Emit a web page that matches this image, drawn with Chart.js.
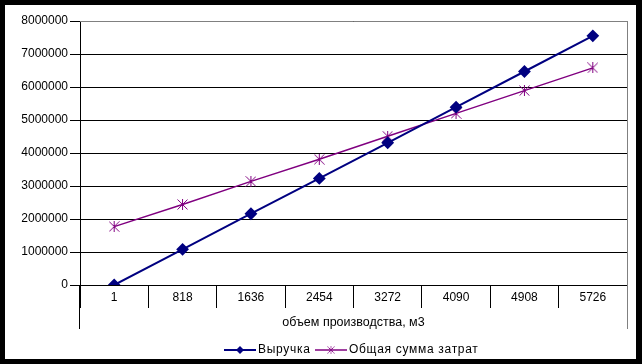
<!DOCTYPE html>
<html>
<head>
<meta charset="utf-8">
<script src="https://cdn.jsdelivr.net/npm/chart.js@4.4.1/dist/chart.umd.min.js"></script>
<style>
  html, body { margin: 0; padding: 0; background: #000; }
  #frame { position: absolute; left: 5px; top: 5px; width: 631px; height: 354px; background: #fff; }
</style>
</head>
<body>
<div id="frame"><canvas id="chart" width="631" height="354"></canvas></div>
<script>
// объем производства, м3
const categories = ["1", "818", "1636", "2454", "3272", "4090", "4908", "5726"]
// Выручка
const revenue = [0, 1080000, 2160000, 3230000, 4310000, 5390000, 6470000, 7550000]
// Общая сумма затрат
const totalCosts = [1770000, 2440000, 3140000, 3810000, 4510000, 5200000, 5890000, 6580000]
const yMax = 8000000
const yStep = 1000000

const NAVY = "#000080"
const PURPLE = "#800080"
const FAMILY = "'Liberation Sans', Arial, sans-serif"
const FONT = { family: FAMILY, size: 12 }

// маркер-звездочка как в Excel: крест + вертикаль
function asterisk(color, size) {
  const c = document.createElement("canvas")
  c.width = c.height = size
  const g = c.getContext("2d")
  g.strokeStyle = color
  g.lineWidth = 1
  const m = size / 2, r = size / 2 - 0.5
  g.beginPath()
  g.moveTo(m - r, m - r); g.lineTo(m + r, m + r)
  g.moveTo(m + r, m - r); g.lineTo(m - r, m + r)
  g.moveTo(m, 0); g.lineTo(m, size)
  g.stroke()
  return c
}
const star = asterisk(PURPLE, 11)

// рамка области построения и легенда снизу
const excelBits = {
  id: "excelBits",
  afterDraw(chart) {
    const { ctx, chartArea: a } = chart
    const boxBottom = a.bottom + 44
    ctx.save()
    ctx.lineWidth = 1
    ctx.strokeStyle = "#808080"
    ctx.beginPath()
    ctx.moveTo(a.left, a.top + 0.5); ctx.lineTo(a.right + 0.5, a.top + 0.5)
    ctx.moveTo(a.right + 0.5, a.top); ctx.lineTo(a.right + 0.5, boxBottom)
    ctx.stroke()
    ctx.strokeStyle = "#000"
    ctx.beginPath()
    ctx.moveTo(a.left - 0.5, a.bottom); ctx.lineTo(a.left - 0.5, boxBottom)
    ctx.stroke()

    // легенда
    const y = 345
    ctx.font = `12px ${FAMILY}`
    ctx.letterSpacing = "0.7px"
    ctx.textBaseline = "middle"
    const items = [
      { label: chart.data.datasets[0].label, color: NAVY, x: 219, w: 2, mark: "diamond" },
      { label: chart.data.datasets[1].label, color: PURPLE, x: 310, w: 1.5, mark: "star" }
    ]
    items.forEach(it => {
      ctx.strokeStyle = it.color
      ctx.lineWidth = it.w
      ctx.beginPath()
      ctx.moveTo(it.x, y); ctx.lineTo(it.x + 32, y)
      ctx.stroke()
      const cx = it.x + 16
      if (it.mark === "diamond") {
        ctx.fillStyle = it.color
        ctx.beginPath()
        ctx.moveTo(cx, y - 4); ctx.lineTo(cx + 4, y); ctx.lineTo(cx, y + 4); ctx.lineTo(cx - 4, y)
        ctx.closePath(); ctx.fill()
      } else {
        ctx.drawImage(star, cx - 4, y - 4, 8, 8)
      }
      ctx.fillStyle = "#000"
      ctx.fillText(it.label, it.x + 34, y)
    })
    ctx.restore()
  }
}

new Chart(document.getElementById("chart"), {
  type: "line",
  data: {
    labels: categories,
    datasets: [
      {
        label: "Выручка",
        data: revenue,
        borderColor: NAVY,
        backgroundColor: NAVY,
        borderWidth: 2,
        pointStyle: "rectRot",
        pointRadius: 5,
        pointBackgroundColor: NAVY,
        pointBorderColor: NAVY,
        tension: 0
      },
      {
        label: "Общая сумма затрат",
        data: totalCosts,
        borderColor: PURPLE,
        backgroundColor: PURPLE,
        borderWidth: 1.5,
        pointStyle: star,
        pointRadius: 5,
        tension: 0
      }
    ]
  },
  options: {
    responsive: false,
    animation: false,
    layout: { padding: { top: 16, right: 9, left: 0, bottom: 0 } },
    plugins: {
      legend: { display: false },
      tooltip: { enabled: false }
    },
    scales: {
      x: {
        offset: true,
        grid: { offset: true, drawOnChartArea: false, tickLength: 23, color: "#000" },
        border: { color: "#000" },
        ticks: { color: "#000", font: FONT, padding: -18, maxRotation: 0 },
        title: {
          display: true,
          text: "объем производства, м3",
          color: "#000",
          font: { family: FAMILY, size: 12.5 },
          padding: { top: 0, bottom: 29 }
        },
        afterFit: s => { s.height = 74 }
      },
      y: {
        min: 0,
        max: yMax,
        grid: { color: "#000", tickLength: 10 },
        border: { color: "#000" },
        ticks: { stepSize: yStep, color: "#000", font: FONT, padding: 2, callback: v => String(v) },
        afterFit: s => { s.width = 75 }
      }
    }
  },
  plugins: [excelBits]
})
</script>
</body>
</html>
